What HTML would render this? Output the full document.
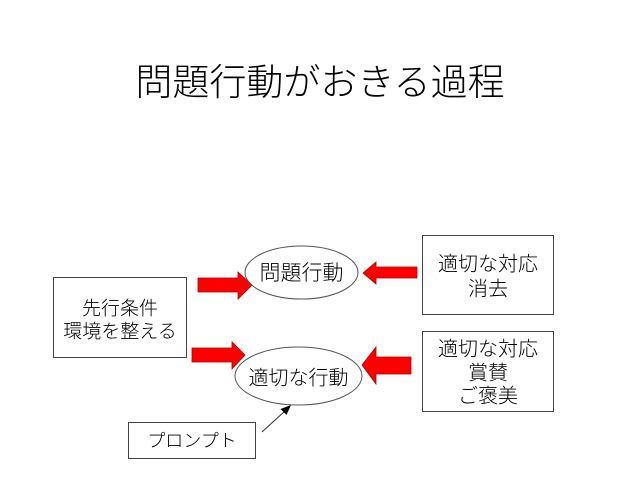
<!DOCTYPE html>
<html><head><meta charset="utf-8"><style>
html,body{margin:0;padding:0;background:#fff;}
svg{display:block;}
text{font-family:"Liberation Sans","Noto Sans CJK JP",sans-serif;fill:#000;font-weight:300;}
</style></head><body>
<svg width="640" height="480" viewBox="0 0 640 480" xmlns="http://www.w3.org/2000/svg">
<rect x="0" y="0" width="640" height="480" fill="#fff"/>
<text x="320" y="95" font-size="37" text-anchor="middle">問題行動がおきる過程</text>

<!-- left box -->
<rect x="53.5" y="277.5" width="133" height="80" fill="none" stroke="#444" stroke-width="1"/>
<text x="120" y="314.6" font-size="19" text-anchor="middle">先行条件</text>
<text x="120" y="337.6" font-size="19" text-anchor="middle">環境を整える</text>

<!-- right boxes -->
<rect x="422.5" y="235.5" width="131" height="79" fill="none" stroke="#444" stroke-width="1"/>
<text x="488" y="270.6" font-size="20" text-anchor="middle">適切な対応</text>
<text x="488" y="295.6" font-size="20" text-anchor="middle">消去</text>

<rect x="422.5" y="331.5" width="131" height="80" fill="none" stroke="#444" stroke-width="1"/>
<text x="488" y="355.6" font-size="20" text-anchor="middle">適切な対応</text>
<text x="488" y="379.6" font-size="20" text-anchor="middle">賞賛</text>
<text x="488" y="402.6" font-size="20" text-anchor="middle">ご褒美</text>

<!-- prompt box -->
<rect x="128.5" y="422.5" width="127" height="36" fill="none" stroke="#444" stroke-width="1"/>
<text x="192" y="446.8" font-size="18" text-anchor="middle">プロンプト</text>

<!-- red arrows -->
<polygon points="198,278 238,278 238,272 252,285 238,299 238,292 198,292" fill="#ff0000" stroke="#b00000" stroke-width="0.8"/>
<polygon points="192,348 232,348 232,342 245,355 232,369 232,362 192,362" fill="#ff0000" stroke="#b00000" stroke-width="0.8"/>
<polygon points="363,273 376,262 376,267 417,267 417,278 376,278 376,284" fill="#ff0000" stroke="#b00000" stroke-width="0.8"/>
<polygon points="362,365 376,347 376,357 411,357 411,374 376,374 376,384" fill="#ff0000" stroke="#b00000" stroke-width="0.8"/>

<!-- ellipses -->
<ellipse cx="301.5" cy="272.5" rx="56.5" ry="26.5" fill="none" stroke="#555" stroke-width="1"/>
<text x="301.5" y="280" font-size="21" text-anchor="middle">問題行動</text>
<ellipse cx="298.5" cy="376" rx="63.5" ry="29" fill="none" stroke="#555" stroke-width="1"/>
<text x="298.5" y="384.6" font-size="20" text-anchor="middle">適切な行動</text>

<!-- prompt connector -->
<line x1="262" y1="432" x2="285" y2="411" stroke="#333" stroke-width="1"/>
<polygon points="291,405 286.5,415 280.5,409" fill="#000"/>
</svg>
</body></html>
